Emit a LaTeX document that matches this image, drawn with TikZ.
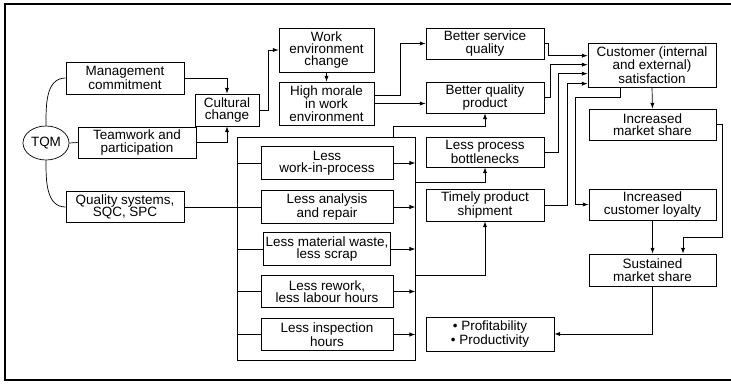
\documentclass[tikz,border=0pt]{standalone}
\usepackage{fontspec}
\setmainfont{Liberation Sans}
\usetikzlibrary{shapes.geometric,arrows.meta}
\tikzset{
	box/.style={draw,align=center,inner sep=0pt,font=\fontsize{11.5}{10.6}\selectfont},
	sz/.style 2 args={minimum width=#1*0.03cm,minimum height=#2*0.03cm},
	link/.style={-{Latex[length=5pt,width=3.6pt]}}
}
\begin{document}
\begin{tikzpicture}[x=0.03cm,y=-0.03cm,line width=0.6pt]
	\useasboundingbox (0,0) rectangle (731,385);
	\draw[line width=1.2pt] (731,4)--(5,4)--(5,380)--(731,380);
	% left side
	\node[box,ellipse,sz={46}{34}] (tqm) at (46,143) {TQM};
	\node[box,sz={118}{32}] (mgmt) at (125,78) {Management\\commitment};
	\node[box,sz={118}{31}] (team) at (137,142.5) {Teamwork and\\participation};
	\node[box,sz={118}{31}] (qual) at (125,207) {Quality systems,\\SQC, SPC};
	\node[box,sz={64}{32}] (cult) at (227,110) {Cultural\\change};
	\node[box,sz={95}{44}] (workenv) at (326.5,50) {Work\\environment\\change};
	\node[box,sz={95}{43}] (morale) at (326.5,103.5) {High morale\\in work\\environment};
	\draw (tqm.north) to[out=90,in=180] (mgmt.west);
	\draw (tqm.south) to[out=-90,in=180] (qual.west);
	\draw (tqm.east)--(team.west);
	\draw[link] (mgmt.east) -| (cult.north);
	\draw[link] (team.east) -| (cult.south);
	\draw[link] (cult.east) -- ++(9,0) |- (workenv.west);
	\draw[link] (workenv.south)--(morale.north);
	% the less boxes
	\node[draw,sz={178}{223},inner sep=0pt] (lessbox) at (326,248.5) {};
	\foreach \n/\y/\w/\txt in {1/163/132/{Less\\work-in-process},
		2/207/132/{Less analysis\\and repair},
		3/249/127/{Less material waste,\\less scrap},
		4/291.5/132/{Less rework,\\less labour hours},
		5/334.5/132/{Less inspection\\hours}} {
		\node[box,sz={\w}{32.5}] (less\n) at (327,\y) {\txt};
		\draw[link] (less\n.east)--(less\n.east -| lessbox.east);
	};
	\foreach \n in {1,3,4,5} {
		\draw (less\n.west)--(less\n.west -| lessbox.west);
	};
	\draw (qual.east)--(less2.west);
	% middle column
	\node[box,sz={118}{31}] (service) at (485,43.5) {Better service\\quality};
	\node[box,sz={118}{31}] (product) at (485,97.5) {Better quality\\product};
	\node[box,sz={118}{30}] (bottle) at (485,152) {Less process\\bottlenecks};
	\node[box,sz={118}{32}] (timely) at (485,205) {Timely product\\shipment};
	\node[box,sz={128}{34}] (profit) at (490,334) {\textbullet\ Profitability\\\textbullet\ Productivity};
	\draw[link] ([yshift=0.255cm]morale.east) -- ++(26,0) |- (service.west);
	\draw[link] (morale.east)--(morale.east -| product.west);
	\draw[link] (lessbox.north -| less1.east) -- ++(0,-10) -| (product.south);
	\draw[link] ([yshift=-1.38cm]lessbox.north east) -| (bottle.south);
	\draw[link] ([yshift=-4.17cm]lessbox.north east) -| (timely.south);
	% right column
	\node[box,sz={128}{44}] (cust) at (652,65) {Customer (internal\\and external)\\satisfaction};
	\node[box,sz={127}{31}] (market) at (652.5,124.5) {Increased\\market share};
	\node[box,sz={127}{31}] (loyal) at (652.5,204.5) {Increased\\customer loyalty};
	\node[box,sz={127}{32}] (sustain) at (652.5,270) {Sustained\\market share};
	\draw[link] (service.east) -- ++(4,0) |- ([yshift=-0.39cm]cust.north west);
	\draw[link] (product.east) -- ++(6,0) |- ([yshift=-0.66cm]cust.north west);
	\draw[link] (bottle.east) -- ++(14,0) |- ([yshift=-0.93cm]cust.north west);
	\draw[link] (timely.east) -- ++(23,0) |- ([yshift=-1.23cm]cust.north west);
	\draw[link] (cust.south)--(market.north);
	\draw[link] ([xshift=-0.96cm]cust.south) -- ++(0,10) -- ++(-45,0) |- (loyal.west);
	\draw[link] (market.east) -- ++(6,0) -- ++(0,112.5) -| ([xshift=0.915cm]sustain.north);
	\draw[link] (loyal.south)--(sustain.north);
	\draw[link] (sustain.south) |- (profit.east);
\end{tikzpicture}
\end{document}
